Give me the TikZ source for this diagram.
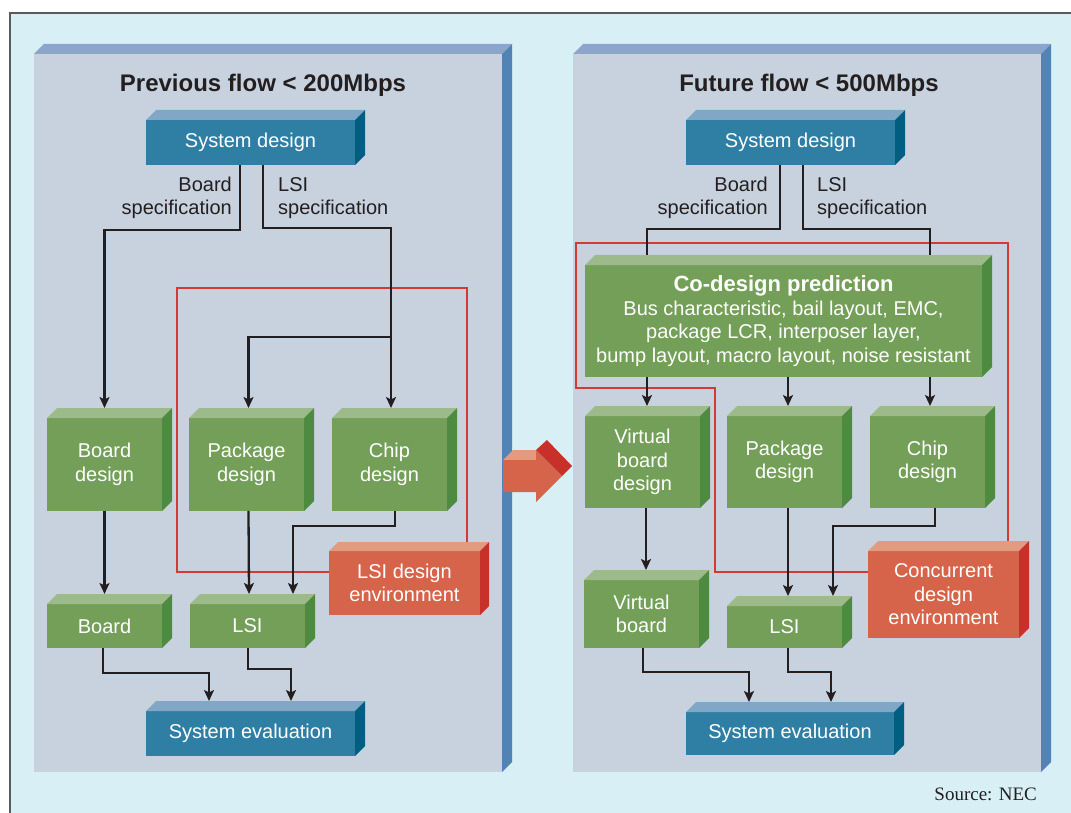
\documentclass[tikz,border=0pt]{standalone}
\usepackage{fontspec}
\setmainfont{Liberation Sans}
\newfontfamily\srcfont{Liberation Serif}
\usetikzlibrary{arrows.meta}
\definecolor{bgc}{HTML}{D7EFF5}
\definecolor{panelfront}{HTML}{C8D2DF}
\definecolor{paneltop}{HTML}{8BA6C8}
\definecolor{panelside}{HTML}{5283B5}
\definecolor{bluefront}{HTML}{2E7FA3}
\definecolor{bluetop}{HTML}{80A8C6}
\definecolor{blueside}{HTML}{005F80}
\definecolor{greenfront}{HTML}{739F58}
\definecolor{greentop}{HTML}{9DBB8A}
\definecolor{greenside}{HTML}{4E8A40}
\definecolor{redfront}{HTML}{D5644A}
\definecolor{redtop}{HTML}{E39A80}
\definecolor{redside}{HTML}{C8302A}
\definecolor{envline}{HTML}{D23A35}
\definecolor{ink}{HTML}{231F20}
\definecolor{frameline}{HTML}{5A5A5A}
\newcommand{\extrude}[4]{%
  \fill[#3] (#1.north west) -- ++(#2,-#2) -- ([shift={(#2,-#2)}]#1.north east) -- (#1.north east) -- cycle;
  \fill[#4] (#1.north east) -- ([shift={(#2,-#2)}]#1.north east) -- ([shift={(#2,-#2)}]#1.south east) -- (#1.south east) -- cycle;}
\tikzset{
  box/.style={rectangle, inner sep=0pt, outer sep=0pt, text=white, align=center, font=\fontsize{20}{23.5}\selectfont},
  bbox/.style={box, fill=bluefront},
  gbox/.style={box, fill=greenfront},
  rbox/.style={box, fill=redfront},
  panel/.style={rectangle, fill=panelfront, inner sep=0pt, outer sep=0pt, minimum width=468pt, minimum height=718pt},
  arr/.style={draw=ink, line width=2.3pt, -{Stealth[length=11pt,width=10pt,inset=2.5pt]}},
  conn/.style={draw=ink, line width=2.3pt},
  envbound/.style={draw=envline, line width=2.2pt},
  lbl/.style={text=ink, font=\fontsize{20}{22.5}\selectfont, inner sep=0pt},
  ttl/.style={text=ink, font=\bfseries\fontsize{24}{28}\selectfont, inner sep=0pt}
}
\begin{document}
\begin{tikzpicture}[x=1pt,y=-1pt]
\useasboundingbox (0,0) rectangle (1071,813);
\fill[white] (0,0) rectangle (1071,813);
\fill[bgc] (10,13) rectangle (1071,813);
\draw[frameline, line width=1.5pt] (10,813) -- (10,13) -- (1071,13);

% panels
\node[panel] (panelL) at (268,413) {};
\extrude{panelL}{10}{paneltop}{panelside}
\node[panel] (panelR) at (807,413) {};
\extrude{panelR}{10}{paneltop}{panelside}

% middle arrow
\fill[redtop] (503,460) -- (513,450) -- (536,450) -- (536,460) -- cycle;
\fill[redfront] (503,460) -- (536,460) -- (536,450) -- (562,476) -- (536,502) -- (536,492) -- (503,492) -- cycle;
\fill[redside] (536,450) -- (547,440) -- (572,466) -- (562,476) -- cycle;

% titles
\node[ttl, anchor=base] (ttlL) at (263,92) {Previous flow < 200Mbps};
\node[ttl, anchor=base] (ttlR) at (809,92) {Future flow < 500Mbps};

% environment boundaries
\draw[envbound] (177,288) rectangle (467,572);
\draw[envbound] (576,243) -- (1008,243) -- (1008,572) -- (715,572) -- (715,388) -- (576,388) -- cycle;

% ---------- left boxes
\node[bbox, minimum width=209pt, minimum height=45pt] (sdL) at (250.5,142.5) {System design};
\extrude{sdL}{10}{bluetop}{blueside}
\node[gbox, minimum width=115pt, minimum height=93pt] (bdL) at (104.5,464.5) {Board\\design};
\extrude{bdL}{10}{greentop}{greenside}
\node[gbox, minimum width=115pt, minimum height=93pt] (pkL) at (246.5,464.5) {Package\\design};
\extrude{pkL}{10}{greentop}{greenside}
\node[gbox, minimum width=115pt, minimum height=93pt] (chL) at (389.5,464.5) {Chip\\design};
\extrude{chL}{10}{greentop}{greenside}
\node[rbox, minimum width=151pt, minimum height=64pt] (envL) at (404.5,583) {LSI design\\environment};
\extrude{envL}{9}{redtop}{redside}
\node[gbox, minimum width=115pt, minimum height=44pt] (bL) at (104.5,626) {Board};
\extrude{bL}{10}{greentop}{greenside}
\node[gbox, minimum width=115pt, minimum height=44pt] (lsiL) at (247.5,626) {LSI};
\extrude{lsiL}{10}{greentop}{greenside}
\node[bbox, minimum width=209pt, minimum height=45pt] (seL) at (250.5,733.5) {System evaluation};
\extrude{seL}{10}{bluetop}{blueside}

% ---------- right boxes
\node[bbox, minimum width=209pt, minimum height=45pt] (sdR) at (790.5,142.5) {System design};
\extrude{sdR}{10}{bluetop}{blueside}
\node[gbox, minimum width=397pt, minimum height=112pt] (cd) at (783.5,321) {{\bfseries\fontsize{22}{26}\selectfont Co-design prediction}\\Bus characteristic, bail layout, EMC,\\package LCR, interposer layer,\\bump layout, macro layout, noise resistant};
\extrude{cd}{10}{greentop}{greenside}
\node[gbox, minimum width=115pt, minimum height=92pt] (vbd) at (642.5,462) {Virtual\\board\\design};
\extrude{vbd}{10}{greentop}{greenside}
\node[gbox, minimum width=115pt, minimum height=92pt] (pkR) at (784.5,462) {Package\\design};
\extrude{pkR}{10}{greentop}{greenside}
\node[gbox, minimum width=115pt, minimum height=92pt] (chR) at (927.5,462) {Chip\\design};
\extrude{chR}{10}{greentop}{greenside}
\node[gbox, minimum width=115pt, minimum height=68pt] (vb) at (641.5,614) {Virtual\\board};
\extrude{vb}{10}{greentop}{greenside}
\node[gbox, minimum width=115pt, minimum height=42pt] (lsiR) at (784.5,627) {LSI};
\extrude{lsiR}{10}{greentop}{greenside}
\node[rbox, minimum width=151pt, minimum height=87pt] (envR) at (943.5,594.5) {Concurrent\\design\\environment};
\extrude{envR}{10}{redtop}{redside}
\node[bbox, minimum width=208pt, minimum height=43pt] (seR) at (790,733.5) {System evaluation};
\extrude{seR}{10}{bluetop}{blueside}

% labels
\node[lbl, align=right, anchor=east] (bsL) at (232,198) {Board\\specification};
\node[lbl, align=left, anchor=west] (lsL) at (278,198) {LSI\\specification};
\node[lbl, align=right, anchor=east] (bsR) at (768,198) {Board\\specification};
\node[lbl, align=left, anchor=west] (lsR) at (817,198) {LSI\\specification};

% ---------- left connectors
\draw[arr] ([xshift=-10.5pt]sdL.south) -- ++(0,65) -| ([yshift=10pt]bdL.north);
\draw[arr] ([xshift=12.5pt]sdL.south) -- ++(0,63) -| ([xshift=1.5pt,yshift=10pt]chL.north);
\coordinate (brL) at (391,337);
\draw[arr] (brL) -| ([xshift=2pt,yshift=10pt]pkL.north);
\draw[arr] ([xshift=2pt]pkL.south) -- ([xshift=1.5pt,yshift=10pt]lsiL.north);
\draw[arr] ([xshift=5.5pt]chL.south) -- ++(0,15) -| ([xshift=45.5pt,yshift=10pt]lsiL.north);
\draw[arr] (bdL.south) -- ([yshift=10pt]bL.north);
\draw[arr] ([xshift=-1.5pt]bL.south) -- ++(0,25) -| ([xshift=-41.5pt,yshift=10pt]seL.north);
\draw[arr] ([xshift=0.5pt]lsiL.south) -- ++(0,21) -| ([xshift=40.5pt,yshift=10pt]seL.north);

% ---------- right connectors
\draw[conn] ([xshift=-10.5pt]sdR.south) -- ++(0,64) -| ([xshift=-136.5pt,yshift=10pt]cd.north);
\draw[conn] ([xshift=12.5pt]sdR.south) -- ++(0,64) -| ([xshift=146.5pt,yshift=10pt]cd.north);
\draw[arr] ([xshift=-136.5pt]cd.south) -- ([xshift=4.5pt,yshift=10pt]vbd.north);
\draw[arr] ([xshift=4.5pt]cd.south) -- ([xshift=3.5pt,yshift=10pt]pkR.north);
\draw[arr] ([xshift=146.5pt]cd.south) -- ([xshift=2.5pt,yshift=10pt]chR.north);
\draw[arr] ([xshift=3.5pt]vbd.south) -- ([xshift=4.5pt,yshift=10pt]vb.north);
\draw[arr] ([xshift=3.5pt]pkR.south) -- ([xshift=3.5pt,yshift=10pt]lsiR.north);
\draw[arr] ([xshift=7.5pt]chR.south) -- ++(0,18) -| ([xshift=48.5pt,yshift=10pt]lsiR.north);
\draw[arr] ([xshift=1.5pt]vb.south) -- ++(0,24) -| ([xshift=-41pt,yshift=10pt]seR.north);
\draw[arr] ([xshift=3.5pt]lsiR.south) -- ++(0,24) -| ([xshift=41pt,yshift=10pt]seR.north);

% source
\node[anchor=base east, font=\srcfont\fontsize{19}{22}\selectfont, text=ink, inner sep=0pt] (src) at (1037,800) {Source: NEC};
\end{tikzpicture}
\end{document}
